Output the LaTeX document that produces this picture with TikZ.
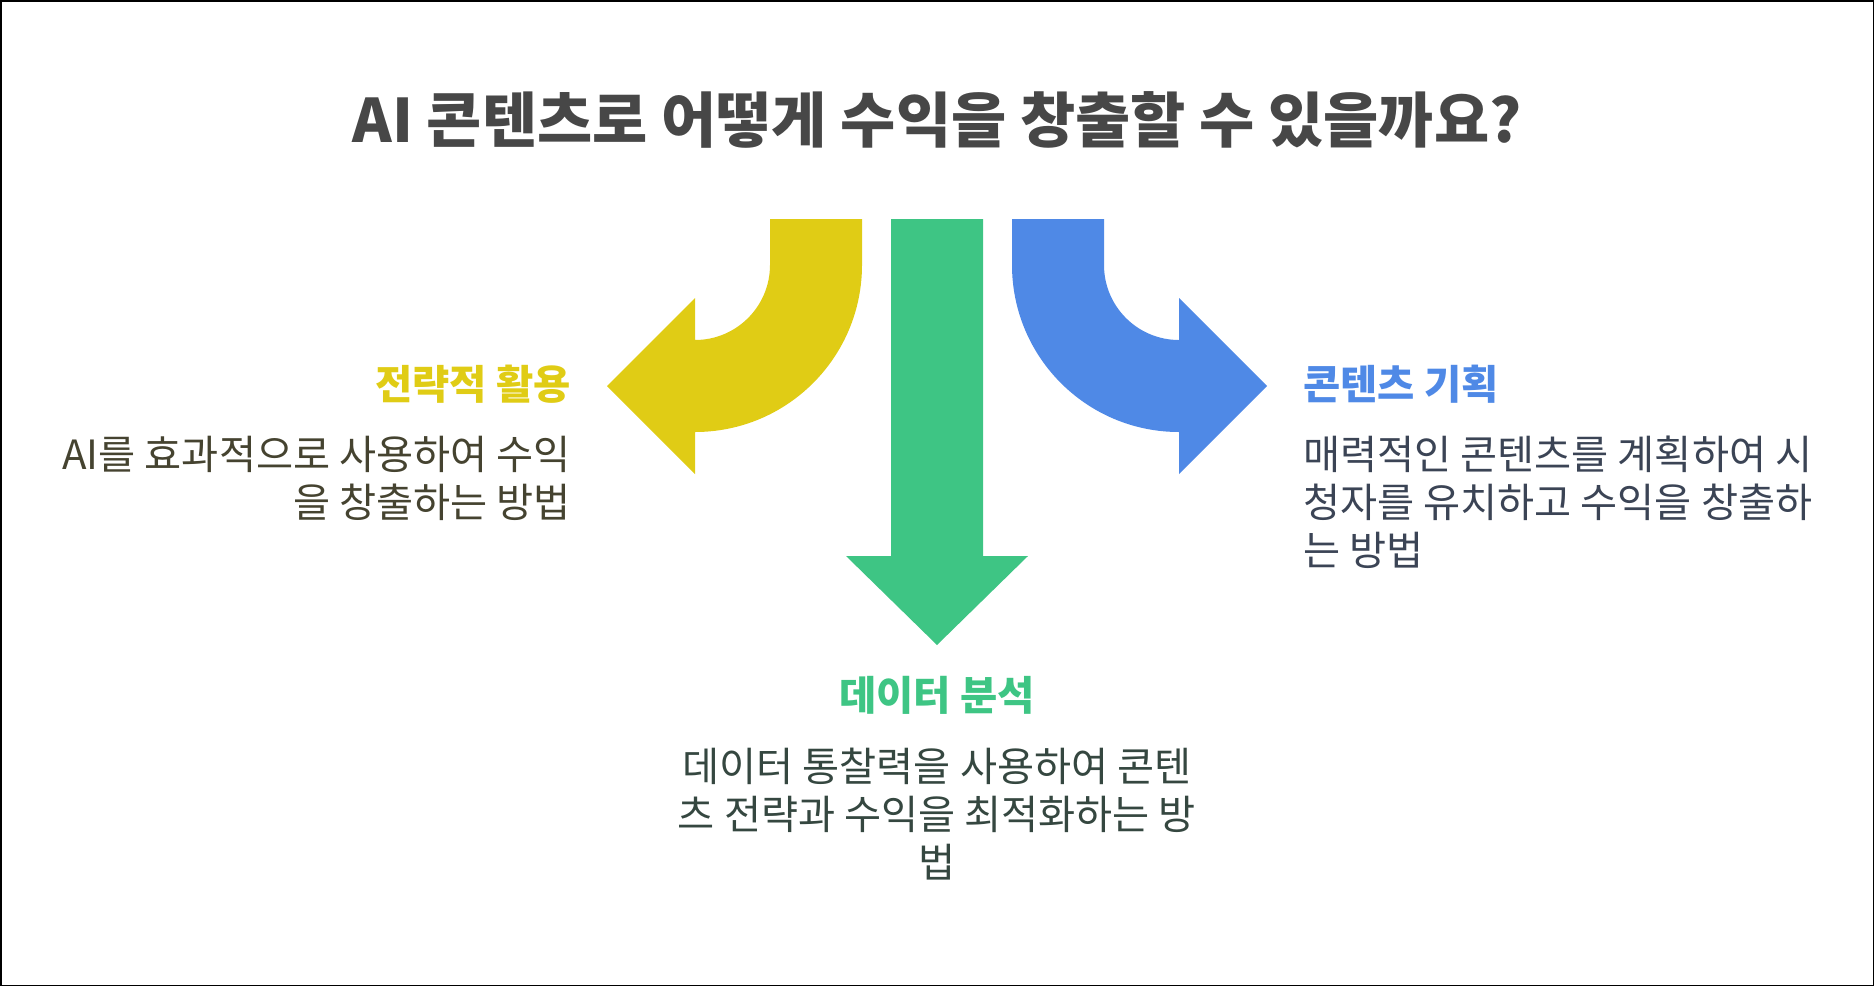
\documentclass[tikz,border=0pt]{standalone}
\usepackage{fontspec}
\setmainfont{Noto Sans CJK KR}
\usepackage{xcolor}
\definecolor{titulo}{RGB}{71, 71, 71}
\definecolor{oro}{RGB}{224, 204, 21}
\definecolor{verde}{RGB}{62, 197, 132}
\definecolor{azul}{RGB}{79, 137, 230}
\definecolor{oliva}{RGB}{69, 67, 48}
\definecolor{pizarra}{RGB}{59, 68, 85}
\definecolor{musgo}{RGB}{53, 71, 64}
\usetikzlibrary{positioning}

\begin{document}
\begin{tikzpicture}[x=1pt, y=1pt,
  band/.style={draw=none},
  head/.style={inner sep=0pt, font=\fontsize{40.5}{48}\selectfont\bfseries},
  desc/.style={inner sep=0pt, font=\fontsize{40.3}{48}\selectfont}
]
  \useasboundingbox (0,0) rectangle (1874,-986);
  \draw[line width=1.5pt] (0.75,-0.75) rectangle (1873.25,-985.25);

  \node[inner sep=0pt, anchor=base, text=titulo, font=\fontsize{60}{64}\selectfont\bfseries] (titulo) at (937,-142)
    {AI 콘텐츠로 어떻게 수익을 창출할 수 있을까요?};

  % arrows
  \fill[band, oro] (770,-219) -- (862,-219) -- (862,-265)
    arc[start angle=0, end angle=-90, radius=167pt] -- (695,-474) -- (607,-386) -- (695,-298) -- (695,-340)
    arc[start angle=-90, end angle=0, radius=75pt] -- cycle;
  \fill[band, verde] (891,-219) -- (983,-219) -- (983,-556) -- (1028,-556) -- (937,-645) -- (846,-556) -- (891,-556) -- cycle;
  \fill[band, azul] (1104,-219) -- (1012,-219) -- (1012,-265)
    arc[start angle=180, end angle=270, radius=167pt] -- (1179,-474) -- (1267,-386) -- (1179,-298) -- (1179,-340)
    arc[start angle=270, end angle=180, radius=75pt] -- cycle;

  % left
  \node[head, anchor=base east, text=oro] (estrategia) at (571,-399) {전략적 활용};
  \node[desc, anchor=base east, align=right, text=oliva] (estrategiatxt) at (571,-517)
    {AI를 효과적으로 사용하여 수익\\을 창출하는 방법};

  % center
  \node[head, anchor=base, text=verde] (datos) at (937,-710) {데이터 분석};
  \node[desc, anchor=base, align=center, text=musgo] (datostxt) at (937,-877)
    {데이터 통찰력을 사용하여 콘텐\\츠 전략과 수익을 최적화하는 방\\법};

  % right
  \node[head, anchor=base west, text=azul] (plan) at (1303,-399) {콘텐츠 기획};
  \node[desc, anchor=base west, align=left, text=pizarra] (plantxt) at (1303,-565)
    {매력적인 콘텐츠를 계획하여 시\\청자를 유치하고 수익을 창출하\\는 방법};
\end{tikzpicture}
\end{document}
